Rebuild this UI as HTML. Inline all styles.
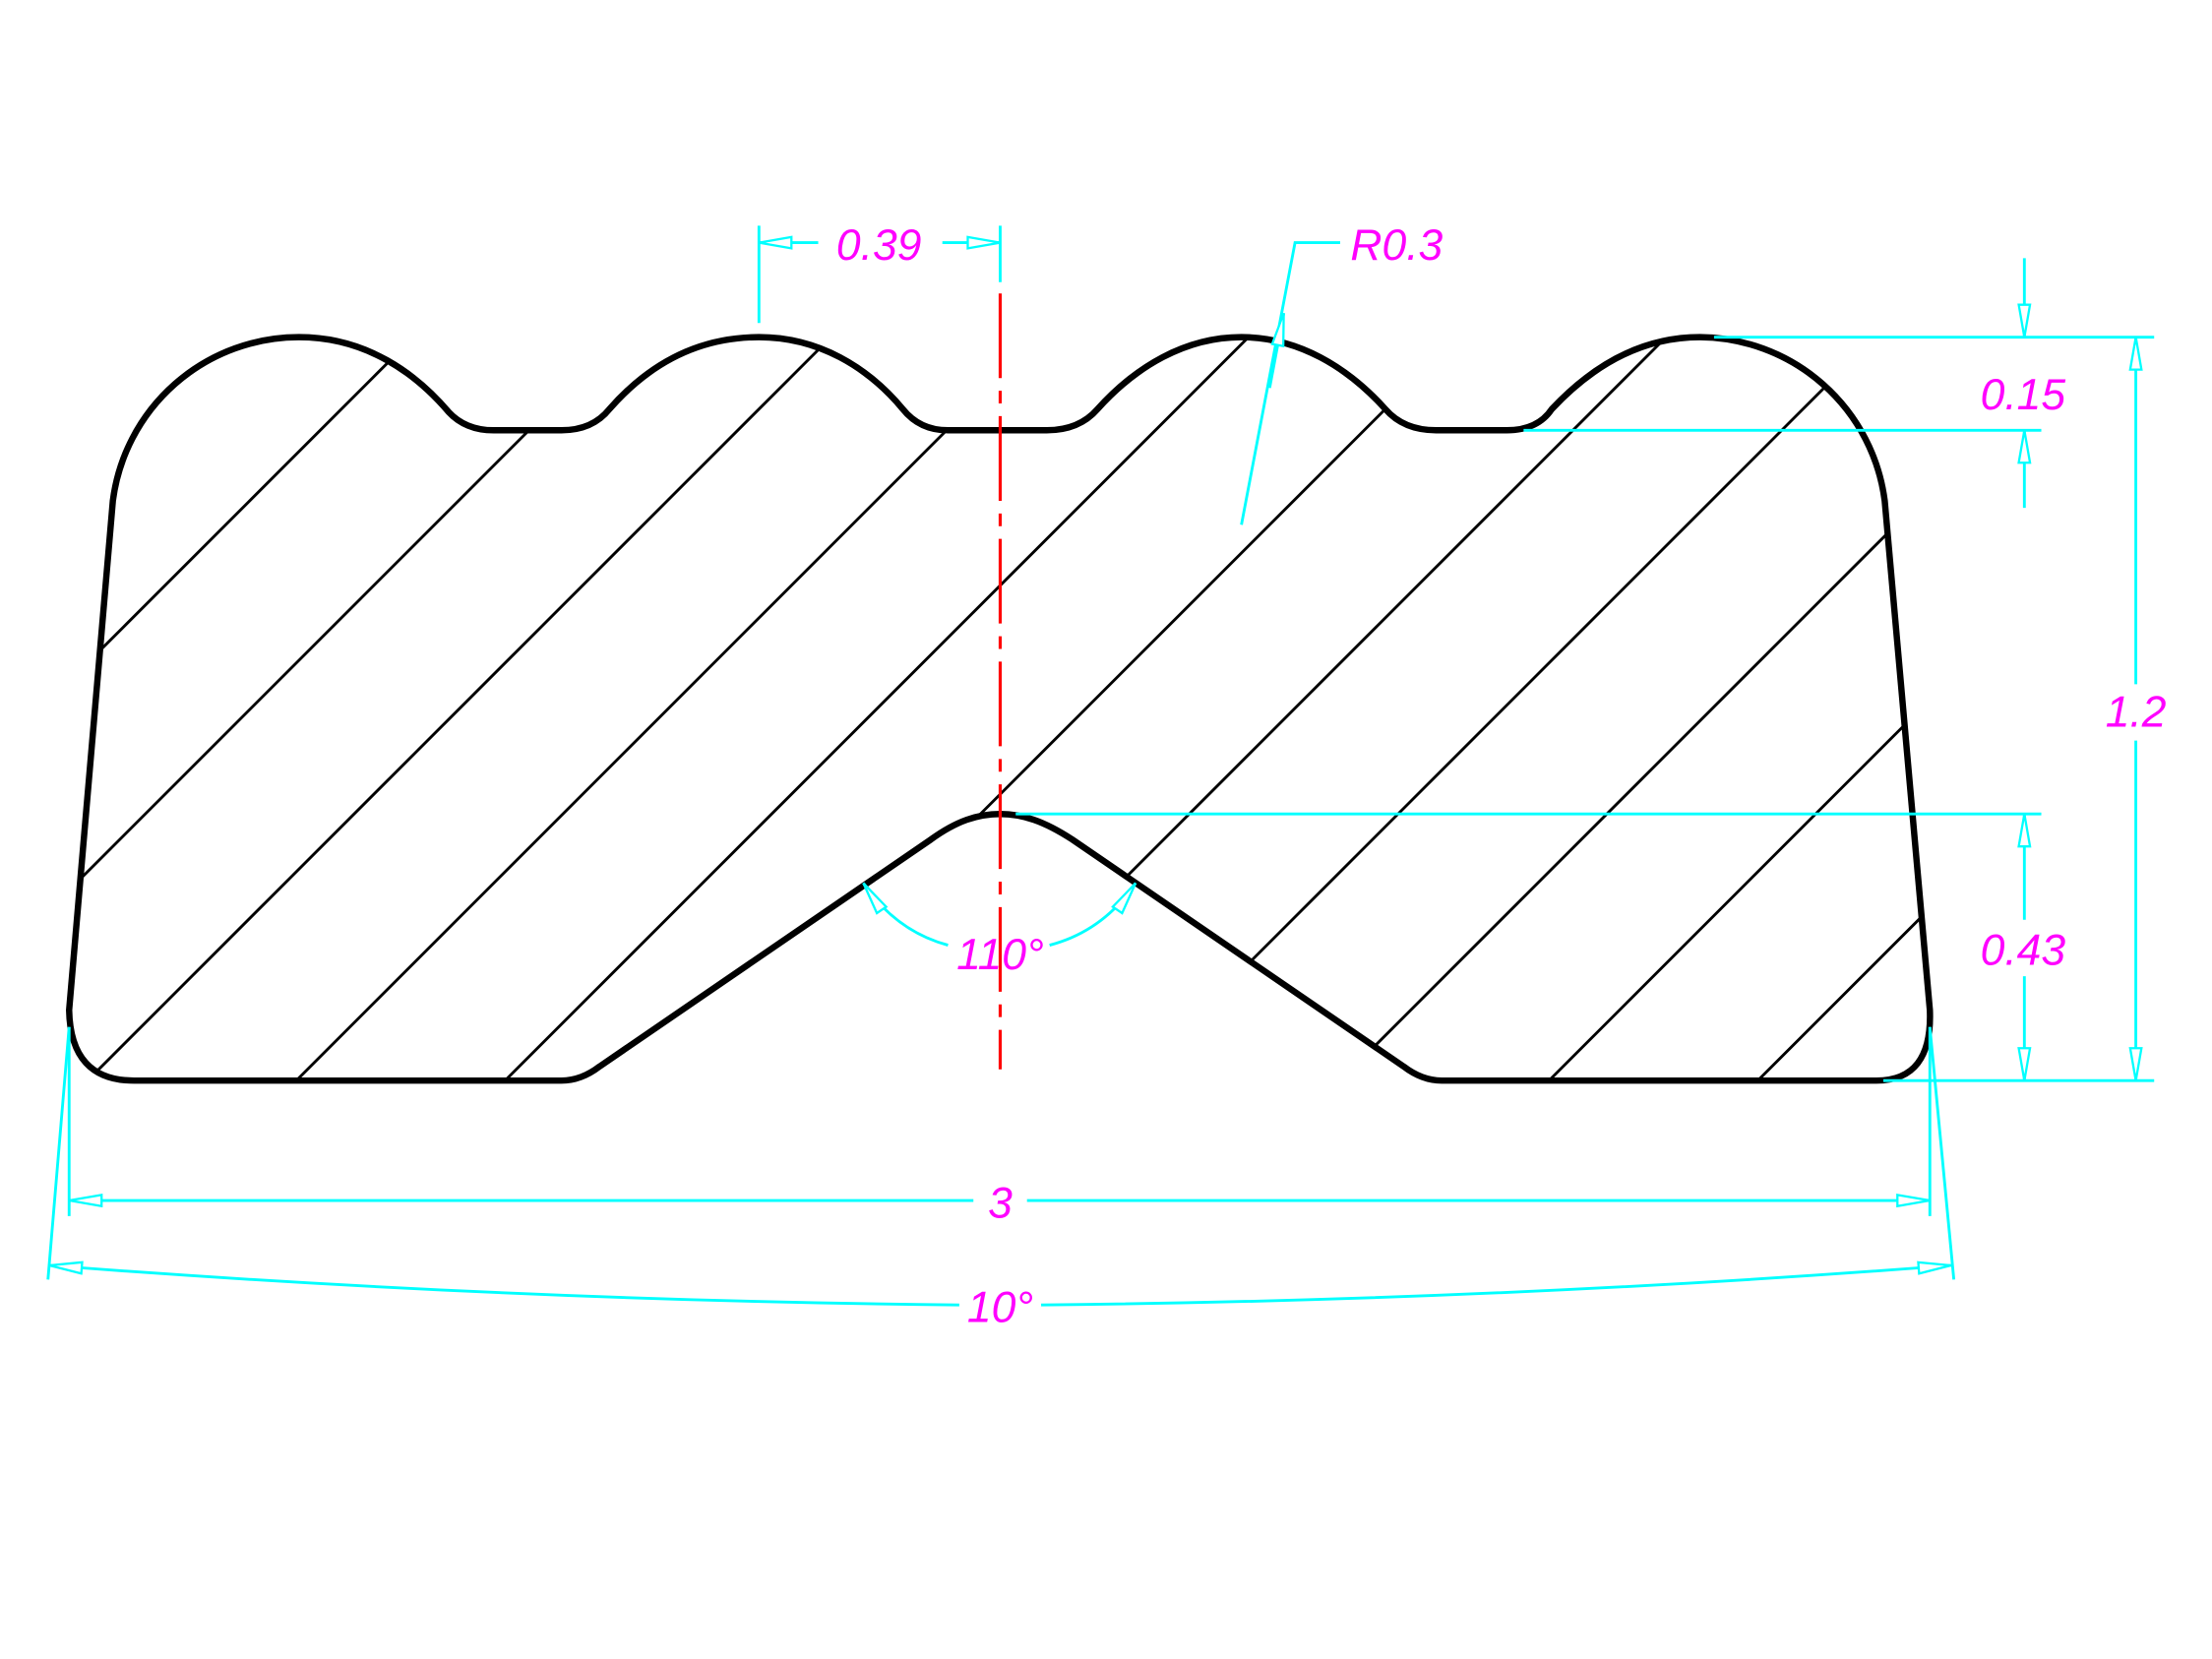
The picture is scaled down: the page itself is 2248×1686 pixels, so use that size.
<!DOCTYPE html>
<html><head><meta charset="utf-8"><style>html,body{margin:0;padding:0;background:#fff;overflow:hidden;width:2248px;height:1686px;position:relative}svg{display:block;position:absolute;left:0;top:0}</style></head><body>
<svg width="2248" height="1686" viewBox="0 0 1568 1176" xmlns="http://www.w3.org/2000/svg">
<defs>
<marker id="a" markerUnits="userSpaceOnUse" markerWidth="30" markerHeight="14" refX="24" refY="5" orient="auto-start-reverse">
<path d="M1,1 L24,5 L1,9 Z" fill="#fff" stroke="#00ffff" stroke-width="1.6"/></marker>
<clipPath id="c"><path d="M80,355 A133,133 0 0 1 212,239 C260,239 295,265 318,292 Q330,305 350,305 L398,305 Q420,305 432,290 C460,258 495,239 538,239 C580,239 615,260 640,290 Q652,305 672,305 L742,305 Q765,305 778,290 C805,260 840,239 880,239 C920,239 955,260 982,290 Q995,305 1018,305 L1068,305 Q1090,305 1100,290 C1130,258 1165,239 1205,239 A133,133 0 0 1 1336,355 L1368,716 Q1370,766 1330,766 L1022,766 Q1008,766 995,756 L760,595 C740,582 725,577 709,577 C693,577 678,582 660,595 L425,756 Q412,766 398,766 L95,766 Q50,766 49,716 Z"/></clipPath>
</defs>
<g clip-path="url(#c)" stroke="#000" stroke-width="2">
<line x1="0" y1="532" x2="532" y2="0"/><line x1="0" y1="680" x2="680" y2="0"/><line x1="0" y1="828" x2="828" y2="0"/><line x1="0" y1="976" x2="976" y2="0"/><line x1="0" y1="1124" x2="1124" y2="0"/><line x1="0" y1="1272" x2="1272" y2="0"/><line x1="0" y1="1420" x2="1420" y2="0"/><line x1="0" y1="1568" x2="1568" y2="0"/><line x1="148" y1="1568" x2="1716" y2="0"/><line x1="296" y1="1568" x2="1864" y2="0"/><line x1="444" y1="1568" x2="2012" y2="0"/><line x1="592" y1="1568" x2="2160" y2="0"/>
</g>
<path d="M80,355 A133,133 0 0 1 212,239 C260,239 295,265 318,292 Q330,305 350,305 L398,305 Q420,305 432,290 C460,258 495,239 538,239 C580,239 615,260 640,290 Q652,305 672,305 L742,305 Q765,305 778,290 C805,260 840,239 880,239 C920,239 955,260 982,290 Q995,305 1018,305 L1068,305 Q1090,305 1100,290 C1130,258 1165,239 1205,239 A133,133 0 0 1 1336,355 L1368,716 Q1370,766 1330,766 L1022,766 Q1008,766 995,756 L760,595 C740,582 725,577 709,577 C693,577 678,582 660,595 L425,756 Q412,766 398,766 L95,766 Q50,766 49,716 Z" fill="none" stroke="#000" stroke-width="4.5" stroke-linejoin="round"/>
<line x1="709" y1="208" x2="709" y2="758" stroke="#ff0000" stroke-width="2.2" stroke-dasharray="60,9,9,9"/>
<g stroke="#00ffff" stroke-width="2" fill="none">
<line x1="538" y1="160" x2="538" y2="229"/><line x1="709" y1="160" x2="709" y2="200"/>
<line x1="580" y1="172" x2="538" y2="172" marker-end="url(#a)"/><line x1="668" y1="172" x2="709" y2="172" marker-end="url(#a)"/>
<polyline points="880,372 918,172 950,172"/><line x1="900" y1="275" x2="910" y2="222" marker-end="url(#a)"/>
<line x1="1215" y1="239" x2="1527" y2="239"/><line x1="1080" y1="305" x2="1447" y2="305"/><line x1="720" y1="577" x2="1447" y2="577"/><line x1="1335" y1="766" x2="1527" y2="766"/>
<line x1="1514" y1="485" x2="1514" y2="239" marker-end="url(#a)"/><line x1="1514" y1="525" x2="1514" y2="766" marker-end="url(#a)"/>
<line x1="1435" y1="183" x2="1435" y2="239" marker-end="url(#a)"/><line x1="1435" y1="360" x2="1435" y2="305" marker-end="url(#a)"/>
<line x1="1435" y1="652" x2="1435" y2="577" marker-end="url(#a)"/><line x1="1435" y1="692" x2="1435" y2="766" marker-end="url(#a)"/>
<line x1="49" y1="728" x2="49" y2="862"/><line x1="1368" y1="728" x2="1368" y2="862"/>
<line x1="690" y1="851" x2="49" y2="851" marker-end="url(#a)"/><line x1="728" y1="851" x2="1368" y2="851" marker-end="url(#a)"/>
<line x1="49" y1="728" x2="34" y2="907"/><line x1="1368" y1="728" x2="1385" y2="907"/>
<path d="M680,925 Q360,922 35,897" marker-end="url(#a)"/><path d="M738,925 Q1060,922 1383,897" marker-end="url(#a)"/>
<path d="M672,670 Q635,660 612,626" marker-end="url(#a)"/><path d="M744,670 Q782,660 805,626" marker-end="url(#a)"/>
</g>
<g fill="#ff00ff" font-family="Liberation Sans, sans-serif" font-style="italic" font-size="31" text-anchor="middle">
<text x="623" y="184">0.39</text>
<text x="990" y="184">R0.3</text>
<text x="1434" y="290">0.15</text>
<text x="1514" y="515">1.2</text>
<text x="1434" y="684">0.43</text>
<text x="709" y="687">110°</text>
<text x="709" y="863">3</text>
<text x="709" y="937">10°</text>
</g>
</svg>
</body></html>
